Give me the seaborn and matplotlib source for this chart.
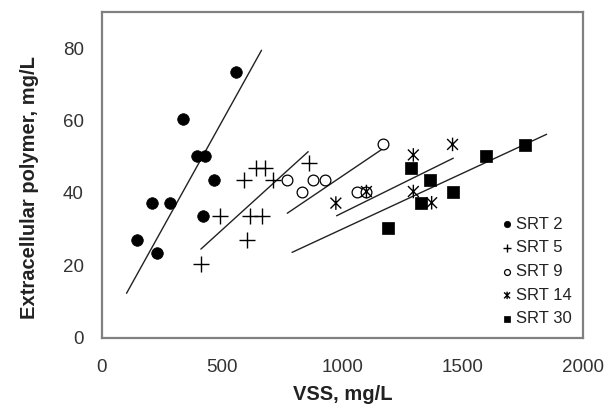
import numpy as np
import pandas as pd
import matplotlib
matplotlib.use("Agg")
import matplotlib.pyplot as plt
from matplotlib.path import Path
import seaborn as sns

# ---- data ----
srt2_x = [147, 209, 231, 285, 338, 396, 428, 421, 466, 557]
srt2_y = [27.0, 37.2, 23.4, 37.2, 60.3, 50.2, 50.2, 33.5, 43.6, 73.5]
srt5_x = [412, 491, 590, 602, 615, 668, 643, 678, 710, 861]
srt5_y = [20.3, 33.5, 43.6, 27.0, 33.5, 33.5, 46.8, 46.8, 43.6, 48.2]
srt9_x = [768, 833, 879, 927, 1059, 1100, 1170]
srt9_y = [43.6, 40.2, 43.6, 43.6, 40.2, 40.2, 53.4]
srt14_x = [973, 1100, 1295, 1295, 1371, 1458]
srt14_y = [37.2, 40.4, 50.5, 40.4, 37.3, 53.4]
srt30_x = [1191, 1287, 1366, 1325, 1459, 1595, 1759]
srt30_y = [30.3, 47.0, 43.7, 37.2, 40.2, 50.3, 53.2]

# trend line endpoints (x0, x1), (y0, y1)
trend2_x = [103, 664];   trend2_y = [12.3, 79.4]
trend5_x = [412, 858];   trend5_y = [24.5, 51.4]
trend9_x = [771, 1170];  trend9_y = [34.4, 52.3]
trend14_x = [976, 1461]; trend14_y = [33.7, 49.6]
trend30_x = [791, 1849]; trend30_y = [23.6, 56.2]

labels = ["SRT 2", "SRT 5", "SRT 9", "SRT 14", "SRT 30"]
x_ticks = [0, 500, 1000, 1500, 2000]
y_ticks = [0, 20, 40, 60, 80]

sns.set_theme(style="white")
plt.rcParams["font.family"] = ["Liberation Sans", "DejaVu Sans"]

fig = plt.figure(figsize=(6.13, 4.09), dpi=100)
ax = fig.add_axes([0.166, 0.174, 0.785, 0.797])

star = Path([(-1, -1), (1, 1), (-1, 1), (1, -1), (0, -1.25), (0, 1.25)],
            [Path.MOVETO, Path.LINETO, Path.MOVETO, Path.LINETO, Path.MOVETO, Path.LINETO])

series = [
    (srt2_x, srt2_y, trend2_x, trend2_y, dict(marker="o", s=70, facecolor="black", edgecolor="black", linewidth=0.5)),
    (srt5_x, srt5_y, trend5_x, trend5_y, dict(marker="+", s=120, color="black", linewidth=1.0)),
    (srt9_x, srt9_y, trend9_x, trend9_y, dict(marker="o", s=60, facecolor="white", edgecolor="black", linewidth=0.9)),
    (srt14_x, srt14_y, trend14_x, trend14_y, dict(marker=star, s=95, facecolor="none", edgecolor="black", linewidth=1.0)),
    (srt30_x, srt30_y, trend30_x, trend30_y, dict(marker="s", s=65, facecolor="black", edgecolor="black", linewidth=0.5)),
]

for (xs, ys, tx, ty, kw), lab in zip(series, labels):
    df = pd.DataFrame({"x": xs, "y": ys})
    sns.scatterplot(data=df, x="x", y="y", ax=ax, label=lab, zorder=3, **kw)
    tdf = pd.DataFrame({"x": tx, "y": ty})
    sns.lineplot(data=tdf, x="x", y="y", ax=ax, color="#222222", linewidth=1.0,
                 legend=False, zorder=2, estimator=None, sort=False)

ax.set_xlim(0, 2000)
ax.set_ylim(0, 90)
ax.set_xticks(x_ticks)
ax.set_yticks(y_ticks)
ax.tick_params(axis="both", direction="in", length=4, width=1, color="#c8c8c8",
               labelsize=13.5, labelcolor="#333333")
ax.tick_params(axis="x", pad=15)
ax.tick_params(axis="y", pad=13)
for sp in ax.spines.values():
    sp.set_color("#808080")
    sp.set_linewidth(1.6)

ax.set_xlabel("VSS, mg/L", fontsize=14.5, fontweight="bold", color="#222222", labelpad=7)
ax.set_ylabel("Extracellular polymer, mg/L", fontsize=14.5, fontweight="bold", color="#222222")
ax.yaxis.set_label_coords(-0.131, 0.46)

leg = ax.legend(loc="center left", bbox_to_anchor=(0.8116, 0.336), bbox_transform=fig.transFigure,
                frameon=False, fontsize=12, markerscale=0.55, handlelength=0.55,
                handletextpad=0.25, labelspacing=0.52, borderaxespad=0, borderpad=0.3)
for t in leg.get_texts():
    t.set_color("#222222")

fig.savefig("out.png", dpi=100)
